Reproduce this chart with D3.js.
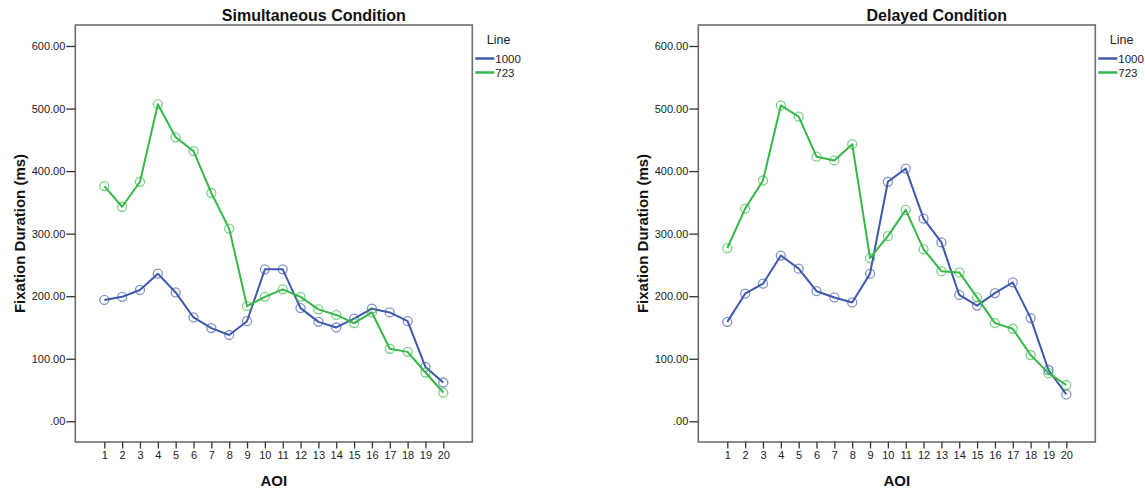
<!DOCTYPE html>
<html>
<head>
<meta charset="utf-8">
<script src="https://cdn.jsdelivr.net/npm/d3@7"></script>
<style>
  html, body { margin: 0; padding: 0; background: #fff; }
  svg { display: block; font-family: "Liberation Sans", Arial, sans-serif; }
</style>
</head>
<body>
<svg id="chart" width="1145" height="490"></svg>
<script>
// AOI categories along the x axis
const aoiLabels = ["1","2","3","4","5","6","7","8","9","10","11","12","13","14","15","16","17","18","19","20"];

// Mean fixation durations (ms), simultaneous condition
const simultaneous1000 = [194,199,210,236,206,166,149,138,160,243,243,181,159,150,164,180,174,160,87,62];
const simultaneous723  = [376,343,383,507,454,432,365,308,184,199,211,199,179,170,157,174,116,111,78,46];

// Mean fixation durations (ms), delayed condition
const delayed1000 = [159,204,220,265,244,208,198,190,236,383,404,324,286,202,185,205,222,165,82,43];
const delayed723  = [277,340,385,505,487,423,417,443,261,296,338,275,240,238,198,157,148,106,77,58];

// Legend / series names
const seriesNames = ["1000", "723"];
const seriesColors = ["#3e58ac", "#35b848"];

// Y-axis ticks
const yTickValues = [0, 100, 200, 300, 400, 500, 600];
const yTickLabels = [".00", "100.00", "200.00", "300.00", "400.00", "500.00", "600.00"];

const panels = [
  { title: "Simultaneous Condition", offset: 0,   series: [simultaneous1000, simultaneous723] },
  { title: "Delayed Condition",      offset: 623, series: [delayed1000, delayed723] }
];

const svg = d3.select("#chart");

// frame geometry (shared by both panels)
const frameL = 75.3, frameR = 472.3, frameT = 25, frameB = 442;

const y = d3.scaleLinear().domain([0, 600]).range([421.3, 46]);
const x = d3.scalePoint().domain(aoiLabels).range([104.3, 443.3]);

panels.forEach(p => {
  const g = svg.append("g").attr("transform", `translate(${p.offset},0)`);

  // plot frame
  g.append("rect")
    .attr("x", frameL).attr("y", frameT)
    .attr("width", frameR - frameL).attr("height", frameB - frameT)
    .attr("fill", "none").attr("stroke", "#6e6e6e").attr("stroke-width", 1.6);

  // y axis
  const yAxis = d3.axisLeft(y)
    .tickValues(yTickValues)
    .tickFormat((d, i) => yTickLabels[i])
    .tickSize(9).tickPadding(1);
  const ya = g.append("g").attr("transform", `translate(${frameL},0)`).call(yAxis);
  ya.select(".domain").remove();
  ya.selectAll(".tick line").attr("stroke", "#333").attr("stroke-width", 1.3);
  ya.selectAll(".tick text").attr("fill", "#222").style("font-size", "11px")
    .style("font-family", "Liberation Sans, Arial, sans-serif");

  // x axis
  const xAxis = d3.axisBottom(x).tickSize(6.5).tickPadding(3);
  const xa = g.append("g").attr("transform", `translate(0,${frameB})`).call(xAxis);
  xa.select(".domain").remove();
  xa.selectAll(".tick line").attr("stroke", "#333").attr("stroke-width", 1.3);
  xa.selectAll(".tick text").attr("fill", "#222").style("font-size", "11px")
    .style("font-family", "Liberation Sans, Arial, sans-serif");

  // lines + open circle markers
  const line = d3.line().x((d, i) => x(aoiLabels[i])).y(d => y(d));
  p.series.forEach((vals, si) => {
    g.append("path")
      .datum(vals)
      .attr("d", line)
      .attr("fill", "none")
      .attr("stroke", seriesColors[si])
      .attr("stroke-width", 2)
      .attr("stroke-linejoin", "round");
    g.selectAll(null)
      .data(vals)
      .enter().append("circle")
      .attr("cx", (d, i) => x(aoiLabels[i]))
      .attr("cy", d => y(d))
      .attr("r", 4.5)
      .attr("fill", "none")
      .attr("stroke", seriesColors[si])
      .attr("stroke-opacity", 0.65)
      .attr("stroke-width", 1.3);
  });

  // title
  g.append("text")
    .attr("x", (frameL + frameR) / 2 + 40).attr("y", 21)
    .attr("text-anchor", "middle")
    .style("font-size", "16px").style("font-weight", "bold").attr("fill", "#111")
    .text(p.title);

  // axis titles
  g.append("text")
    .attr("transform", `translate(24.5,${(frameT + frameB) / 2}) rotate(-90)`)
    .attr("text-anchor", "middle")
    .style("font-size", "15px").style("font-weight", "bold").attr("fill", "#111")
    .text("Fixation Duration (ms)");
  g.append("text")
    .attr("x", (frameL + frameR) / 2).attr("y", 485.5)
    .attr("text-anchor", "middle")
    .style("font-size", "15px").style("font-weight", "bold").attr("fill", "#111")
    .text("AOI");

  // legend
  const lg = g.append("g").attr("transform", `translate(${frameR},0)`);
  lg.append("text").attr("x", 14.5).attr("y", 43.5)
    .style("font-size", "12.5px").attr("fill", "#222").text("Line");
  seriesNames.forEach((name, i) => {
    const ly = 58.5 + i * 14;
    lg.append("line").attr("x1", 3).attr("x2", 22).attr("y1", ly).attr("y2", ly)
      .attr("stroke", seriesColors[i]).attr("stroke-width", 2.5);
    lg.append("text").attr("x", 23).attr("y", ly + 4)
      .style("font-size", "11.5px").attr("fill", "#222").text(name);
  });
});
</script>
</body>
</html>
